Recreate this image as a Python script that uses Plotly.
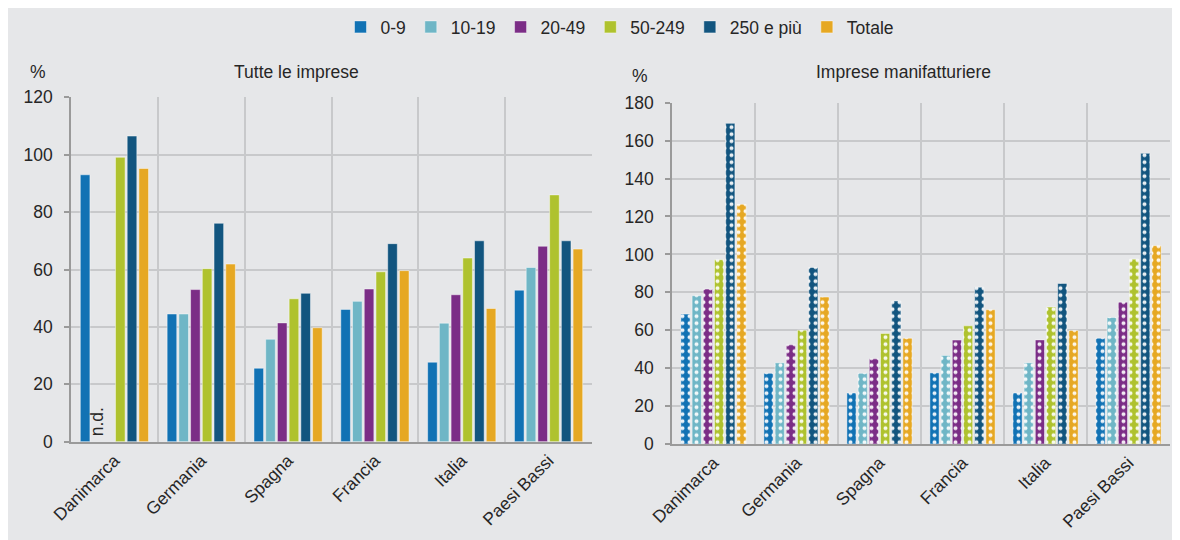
import plotly.graph_objects as go

countries = ["Danimarca", "Germania", "Spagna", "Francia", "Italia", "Paesi Bassi"]
series = ["0-9", "10-19", "20-49", "50-249", "250 e più", "Totale"]
colors = ["#1172b4", "#6fb6c6", "#7b2d86", "#afc22e", "#12557f", "#e6a823"]

# Tutte le imprese (%)
tutte_0_9 = [93.0, 44.5, 25.6, 46.1, 27.7, 52.8]
tutte_10_19 = [None, 44.5, 35.7, 48.9, 41.3, 60.7]
tutte_20_49 = [None, 53.0, 41.4, 53.2, 51.2, 68.1]
tutte_50_249 = [99.1, 60.3, 49.8, 59.2, 64.0, 86.0]
tutte_250 = [106.5, 76.1, 51.7, 69.0, 70.0, 70.0]
tutte_tot = [95.2, 61.9, 39.7, 59.6, 46.4, 67.1]

# Imprese manifatturiere (%)
manif_0_9 = [68.5, 37.3, 26.9, 37.5, 26.9, 55.8]
manif_10_19 = [78.2, 42.8, 37.3, 46.7, 42.8, 66.7]
manif_20_49 = [81.7, 52.3, 44.9, 54.8, 54.9, 74.8]
manif_50_249 = [97.2, 60.0, 58.3, 62.3, 72.2, 97.5]
manif_250 = [169.1, 93.1, 75.4, 82.7, 84.7, 153.3]
manif_tot = [126.4, 77.5, 55.8, 70.8, 59.9, 104.6]

tutte = [tutte_0_9, tutte_10_19, tutte_20_49, tutte_50_249, tutte_250, tutte_tot]
manif = [manif_0_9, manif_10_19, manif_20_49, manif_50_249, manif_250, manif_tot]

BG = "#e6e7e9"
GRID = "#c8c9cb"
AXIS = "#9a9a9a"
TXT = "#262626"
FONT = "Liberation Sans, Arial, sans-serif"
FS = 17.5

fig = go.Figure()

for name, col, vals in zip(series, colors, tutte):
    fig.add_trace(go.Bar(
        x=countries, y=vals, name=name, xaxis="x", yaxis="y",
        marker=dict(color=col, line=dict(color="rgba(255,255,255,0.45)", width=1)),
        legendgroup=name, showlegend=True,
    ))

for name, col, vals in zip(series, colors, manif):
    fig.add_trace(go.Bar(
        x=countries, y=vals, name=name, xaxis="x2", yaxis="y2",
        marker=dict(color=col, line=dict(color="rgba(255,255,255,0.45)", width=1),
                    pattern=dict(shape=".", fgcolor="white", bgcolor=col,
                                 size=7, solidity=0.25, fgopacity=0.9)),
        legendgroup=name, showlegend=False,
    ))

# The page body has an 8px margin: figure sits at page (8, 8).
OFF = 8
W, H = 1180, 540
ml, mr, mt, mb = 63, 18, 89, 104
pw, ph = W - ml - mr, H - mt - mb


def px(page_x):
    return (page_x - OFF - ml) / pw


def py(page_y):
    return (H - mb - (page_y - OFF)) / ph


xcommon = dict(
    type="category", tickson="boundaries", showgrid=True, gridcolor=GRID, gridwidth=1.5,
    showline=True, linecolor=AXIS, linewidth=1.5, ticks="", tickangle=-45,
    tickfont=dict(size=FS, color=TXT, family=FONT), automargin=False,
)
ycommon = dict(
    showgrid=True, gridcolor=GRID, gridwidth=1.5, showline=True, linecolor=AXIS,
    linewidth=1.5, ticks="outside", ticklen=5, tickcolor=AXIS, tickwidth=1.5,
    ticklabelstandoff=8,
    tickfont=dict(size=FS, color=TXT, family=FONT), dtick=20, zeroline=False,
    automargin=False,
)

fig.update_layout(
    width=W, height=H,
    margin=dict(l=ml, r=mr, t=mt, b=mb, autoexpand=False),
    paper_bgcolor=BG, plot_bgcolor=BG,
    font=dict(family=FONT, color=TXT, size=FS),
    barmode="group", bargap=0.19, bargroupgap=0.18,
    xaxis=dict(domain=[0, px(592)], anchor="y", **xcommon),
    xaxis2=dict(domain=[px(672), 1.0], anchor="y2", **xcommon),
    yaxis=dict(domain=[py(441.7), py(97.3)], anchor="x", range=[0, 120], **ycommon),
    yaxis2=dict(domain=[0.0, py(102.7)], anchor="x2", range=[0, 180], **ycommon),
    legend=dict(orientation="h", x=px(620), xanchor="center", y=py(27), yanchor="middle",
                font=dict(size=FS, color=TXT, family=FONT), bgcolor="rgba(0,0,0,0)",
                itemwidth=30, traceorder="normal"),
    showlegend=True,
)

annots = [
    dict(text="Tutte le imprese", x=px(296), y=py(72)),
    dict(text="%", x=px(38), y=py(72)),
    dict(text="Imprese manifatturiere", x=px(903), y=py(72)),
    dict(text="%", x=px(640), y=py(76)),
]
for a in annots:
    fig.add_annotation(xref="paper", yref="paper", showarrow=False,
                       xanchor="center", yanchor="middle",
                       font=dict(size=FS, color=TXT, family=FONT), **a)

# n.d. label for missing Danimarca values (10-19 slot)
fig.add_annotation(xref="x", yref="y", x=countries[0], y=0, text="n.d.",
                   textangle=-90, showarrow=False, xanchor="center", yanchor="bottom",
                   xshift=-17.4, yshift=3, font=dict(size=FS, color=TXT, family=FONT))

fig.write_html("out.html")
